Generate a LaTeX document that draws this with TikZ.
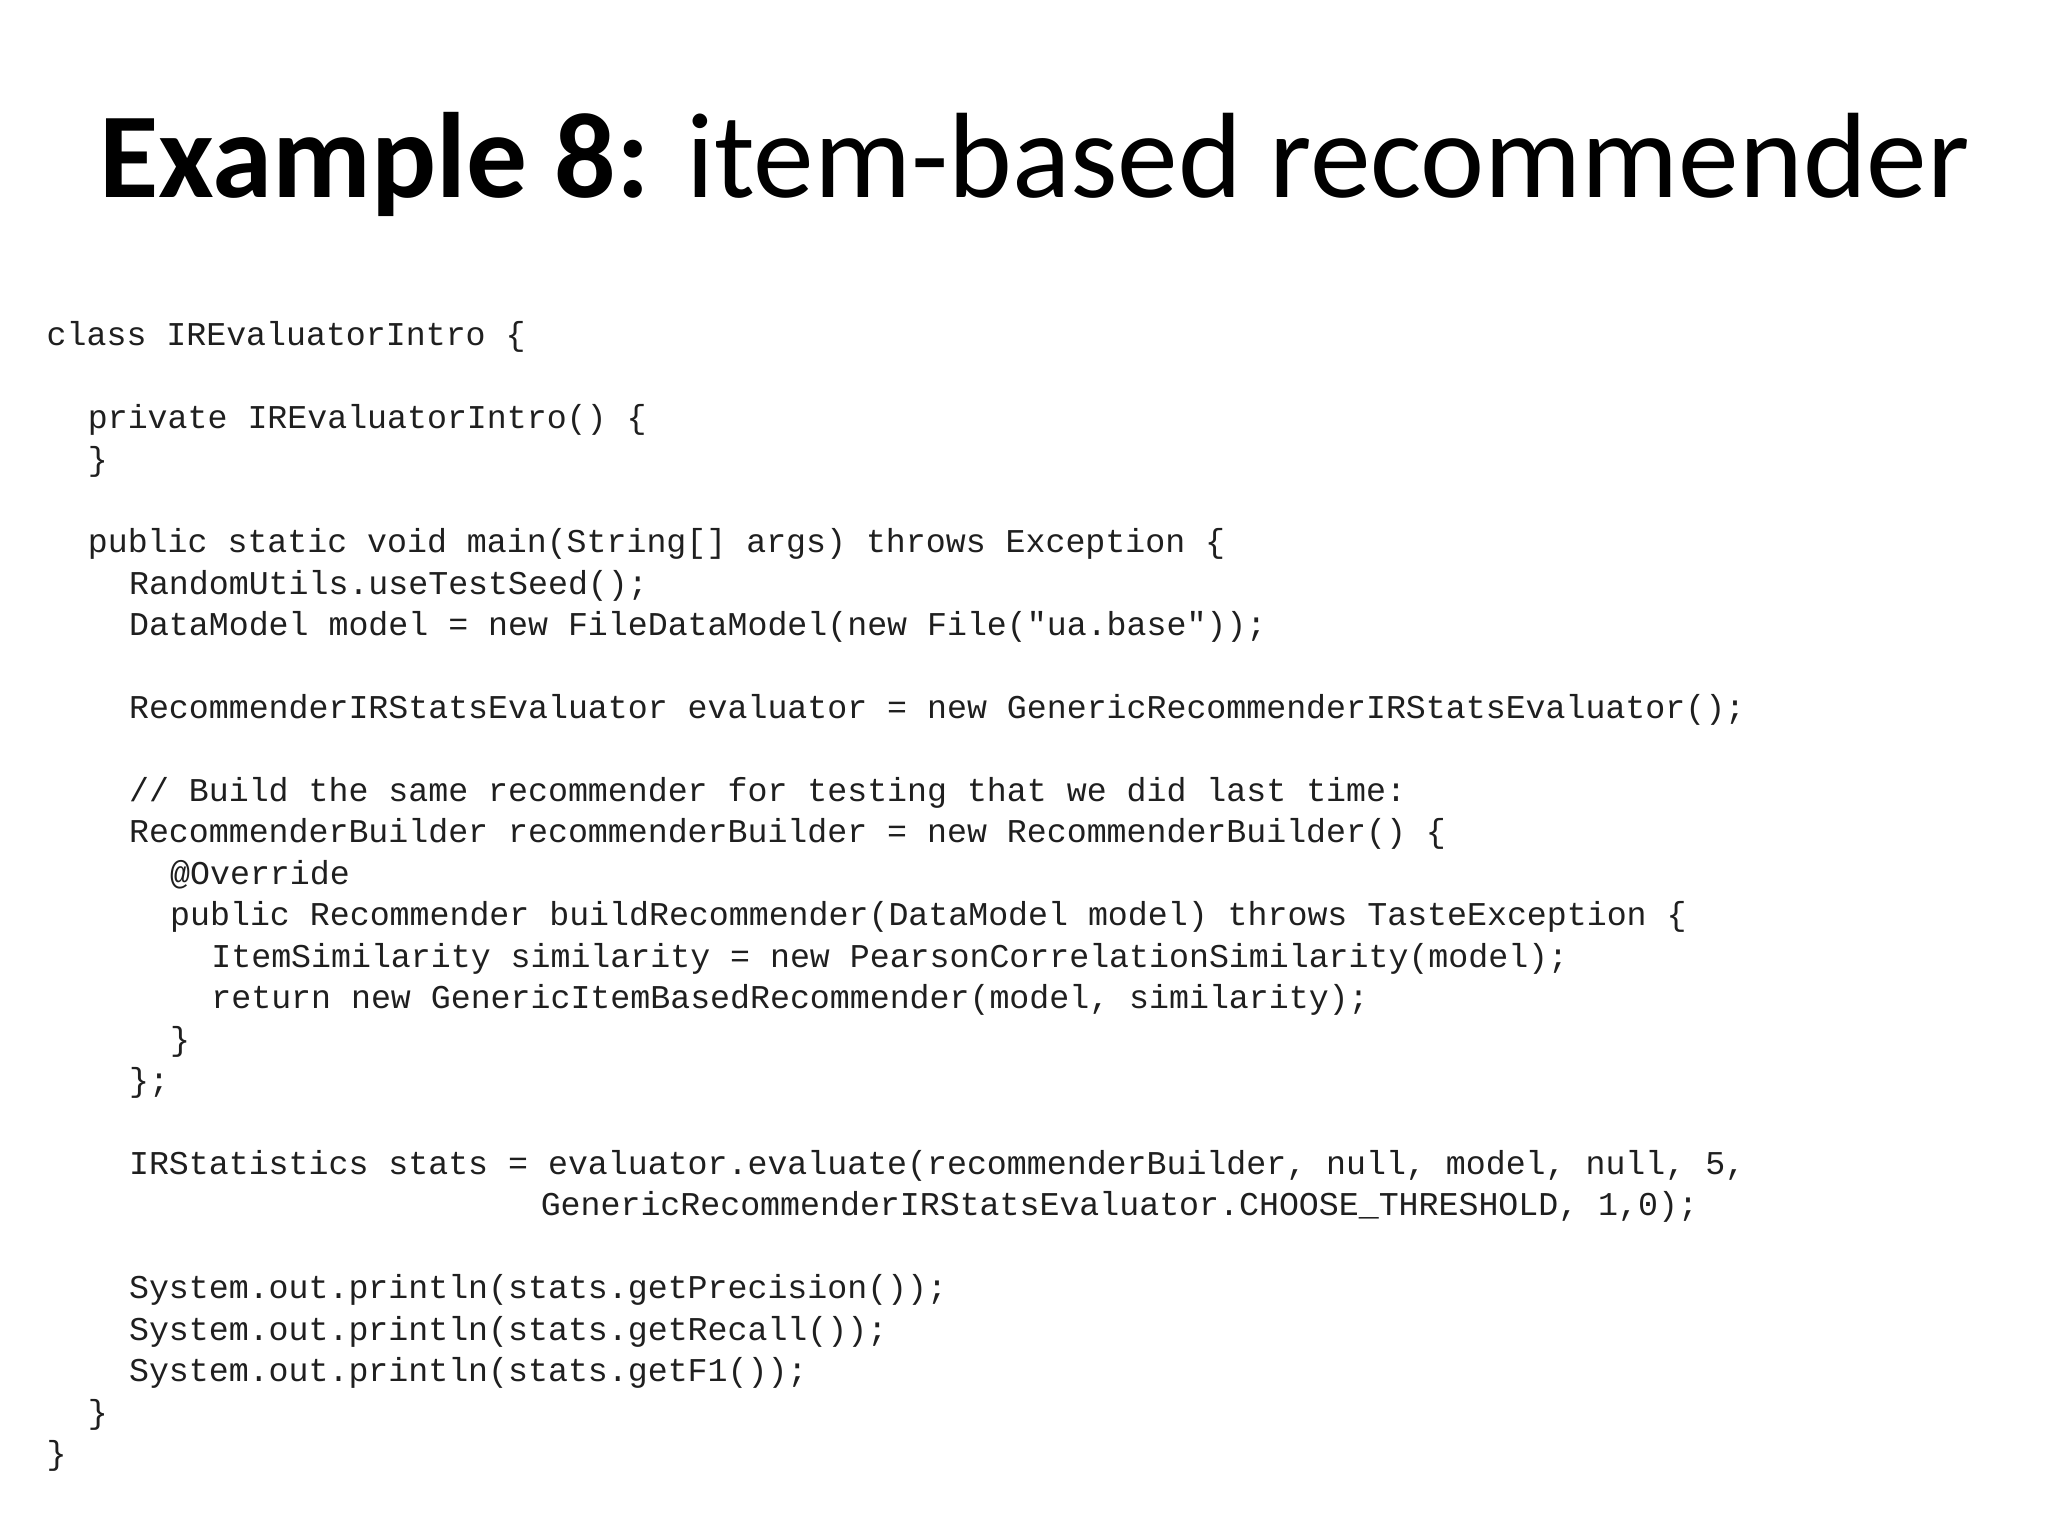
\documentclass[tikz,border=0pt]{standalone}
\usepackage{fontspec}
\setmainfont{Carlito}
\newfontfamily\codefont{Liberation Mono}
\tikzset{codeline/.style={anchor=base west,inner sep=0pt,font=\codefont\fontsize{12.6}{14}\selectfont,text=black!88}}
\newcommand\cl[4]{\node[codeline] (#1) at ({17.5pt+7.8pt*#3},{-131pt-15.7pt*#2}) {#4};}
\begin{document}
\begin{tikzpicture}
\useasboundingbox (0,0) rectangle (776pt,-582pt);
\node[anchor=base,inner sep=0pt,font=\fontsize{46}{50}\selectfont] (title) at (392pt,-75pt) {\textbf{Example 8:} item-based recommender};
\cl{a}{0}{0}{class IREvaluatorIntro \{}
\cl{b}{2}{2}{private IREvaluatorIntro() \{}
\cl{c}{3}{2}{\}}
\cl{d}{5}{2}{public static void main(String[] args) throws Exception \{}
\cl{e}{6}{4}{RandomUtils.useTestSeed();}
\cl{f}{7}{4}{DataModel model = new FileDataModel(new File("ua.base"));}
\cl{g}{9}{4}{RecommenderIRStatsEvaluator evaluator = new GenericRecommenderIRStatsEvaluator();}
\cl{h}{11}{4}{// Build the same recommender for testing that we did last time:}
\cl{i}{12}{4}{RecommenderBuilder recommenderBuilder = new RecommenderBuilder() \{}
\cl{j}{13}{6}{@Override}
\cl{k}{14}{6}{public Recommender buildRecommender(DataModel model) throws TasteException \{}
\cl{l}{15}{8}{ItemSimilarity similarity = new PearsonCorrelationSimilarity(model);}
\cl{m}{16}{8}{return new GenericItemBasedRecommender(model, similarity);}
\cl{n}{17}{6}{\}}
\cl{o}{18}{4}{\};}
\cl{p}{20}{4}{IRStatistics stats = evaluator.evaluate(recommenderBuilder, null, model, null, 5,}
\cl{q}{21}{24}{GenericRecommenderIRStatsEvaluator.CHOOSE\_THRESHOLD, 1,0);}
\cl{r}{23}{4}{System.out.println(stats.getPrecision());}
\cl{s}{24}{4}{System.out.println(stats.getRecall());}
\cl{t}{25}{4}{System.out.println(stats.getF1());}
\cl{u}{26}{2}{\}}
\cl{v}{27}{0}{\}}
\end{tikzpicture}
\end{document}
